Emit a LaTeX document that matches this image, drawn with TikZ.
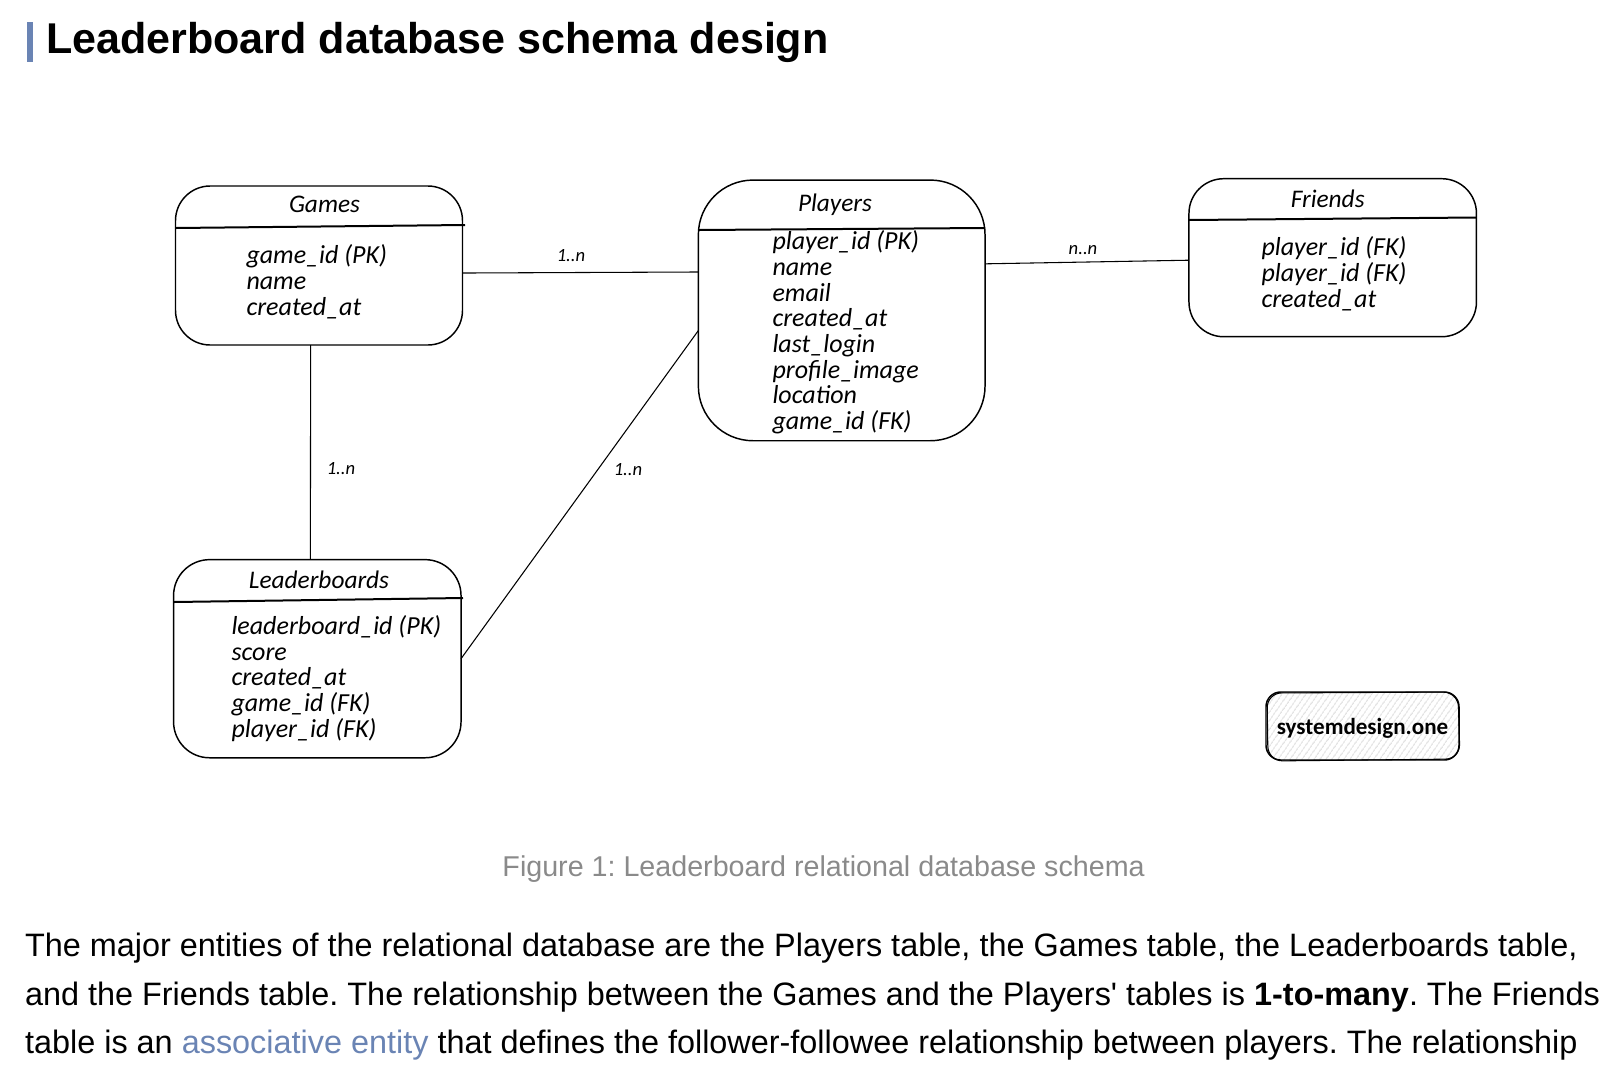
\documentclass[tikz,border=0pt]{standalone}
\usepackage{fontspec}
\setmainfont{Liberation Sans}[Ligatures=TeXOff]
\newfontfamily\sketchfont{Carlito}
\usetikzlibrary{patterns.meta}
\definecolor{linkblue}{HTML}{6A84B4}
\definecolor{captiongray}{HTML}{8A8A8A}
\tikzset{every picture/.style={line width=0.75pt}}
\tikzset{
  tablebox/.style={draw,line width=1.1pt,inner sep=0pt,outer sep=0pt},
  headrule/.style={line width=1.5pt},
  relline/.style={line width=0.8pt},
  tabletitle/.style={font=\sketchfont\itshape\fontsize{19}{21}\selectfont},
  fieldlist/.style={anchor=north west,inner sep=0pt,align=left,font=\sketchfont\itshape\fontsize{19.5}{19.25}\selectfont},
  rellabel/.style={font=\sketchfont\itshape\fontsize{14}{16}\selectfont},
}

\begin{document}
\frenchspacing
\begin{tikzpicture}[x=0.75pt,y=0.75pt,yscale=-1,xscale=1]
\useasboundingbox (0,0) rectangle (1610,1064);

%Shape: Rectangle [heading bar]
\fill [linkblue] (27,22) rectangle (33,62);
% Text Node
\draw (45.5,42.5) node (heading) [anchor=west,inner sep=0pt,font=\bfseries\fontsize{32.3}{36}\selectfont] {Leaderboard database schema design};

%Shape: Rounded Rectangle [tables]
\draw (319,265.5) node (games) [tablebox,minimum width=215.25pt,minimum height=119.25pt,rounded corners=26pt] {};
\draw (841.7,310.4) node (players) [tablebox,minimum width=215pt,minimum height=195.5pt,rounded corners=41pt] {};
\draw (1332.7,257.7) node (friends) [tablebox,minimum width=215.6pt,minimum height=118.5pt,rounded corners=26pt] {};
\draw (317.3,658.7) node (leaderboards) [tablebox,minimum width=215.6pt,minimum height=148.6pt,rounded corners=27pt] {};

%Straight Lines [header rules]
\draw [headrule] (176,228) -- (465,225);
\draw [headrule] (699,230) -- (985,228);
\draw [headrule] (1189,220) -- (1476,217.5);
\draw [headrule] (174,602) -- (463,598);

%Straight Lines [relations]
\draw [relline] (games.-3.2) -- (players.165);
\draw [relline] (players.18.6) -- (friends.181.6);
\draw [relline] (games.264.3) -- (leaderboards.94);
\draw [relline] (leaderboards.east) -- (players.188);

% Text Node
\draw (324.5,204.5) node (gamesTitle) [tabletitle] {Games};
\draw (835,205) node (playersTitle) [tabletitle] {Players};
\draw (1327.7,199) node (friendsTitle) [tabletitle] {Friends};
\draw (319,580) node (leaderboardsTitle) [tabletitle] {Leaderboards};

% Text Node
\draw (246,244.5) node (gamesFields) [fieldlist] {game\_id (PK)\\name\\created\_at};
\draw (772,230.5) node (playersFields) [fieldlist] {player\_id (PK)\\name\\email\\created\_at\\last\_login\\profile\_image\\location\\game\_id (FK)};
\draw (1261,236.5) node (friendsFields) [fieldlist] {player\_id (FK)\\player\_id (FK)\\created\_at};
\draw (231,615) node (leaderboardsFields) [fieldlist] {leaderboard\_id (PK)\\score\\created\_at\\game\_id (FK)\\player\_id (FK)};

% Text Node
\draw (571,256) node (gamesPlayersLabel) [rellabel] {1..n};
\draw (1083,250) node (playersFriendsLabel) [rellabel] {n..n};
\draw (341,469) node (gamesBoardsLabel) [rellabel] {1..n};
\draw (628,470) node (boardsPlayersLabel) [rellabel] {1..n};

%Shape: Rounded Rectangle [badge]
\draw (1362.5,726) node (badge) [tablebox,minimum width=144.75pt,minimum height=51pt,rounded corners=11pt,
  pattern={Lines[angle=55,distance=4pt,line width=0.6pt]},pattern color=gray!35] {};
\draw [line width=0.8pt,rounded corners=11pt] (1267,693) -- (1458,692) -- (1460,759) -- (1268,761) -- cycle;
\draw (1362.5,728) node (badgeText) [font=\sketchfont\bfseries\fontsize{17.3}{20}\selectfont] {systemdesign.one};

% Text Node
\draw (823.6,869) node (caption) [text=captiongray,font=\fontsize{21.5}{25}\selectfont] {Figure 1: Leaderboard relational database schema};

% Text Node
\draw (24.6,933) node (bodyText) [anchor=north west,inner sep=0pt,align=left,font=\fontsize{24.3}{36.2}\selectfont] {The major entities of the relational database are the Players table, the Games table, the Leaderboards table,\\and the Friends table. The relationship between the Games and the Players' tables is \textbf{1-to-many}. The Friends\\table is an \textcolor{linkblue}{associative entity} that defines the follower-followee relationship between players. The relationship};

\end{tikzpicture}
\end{document}
